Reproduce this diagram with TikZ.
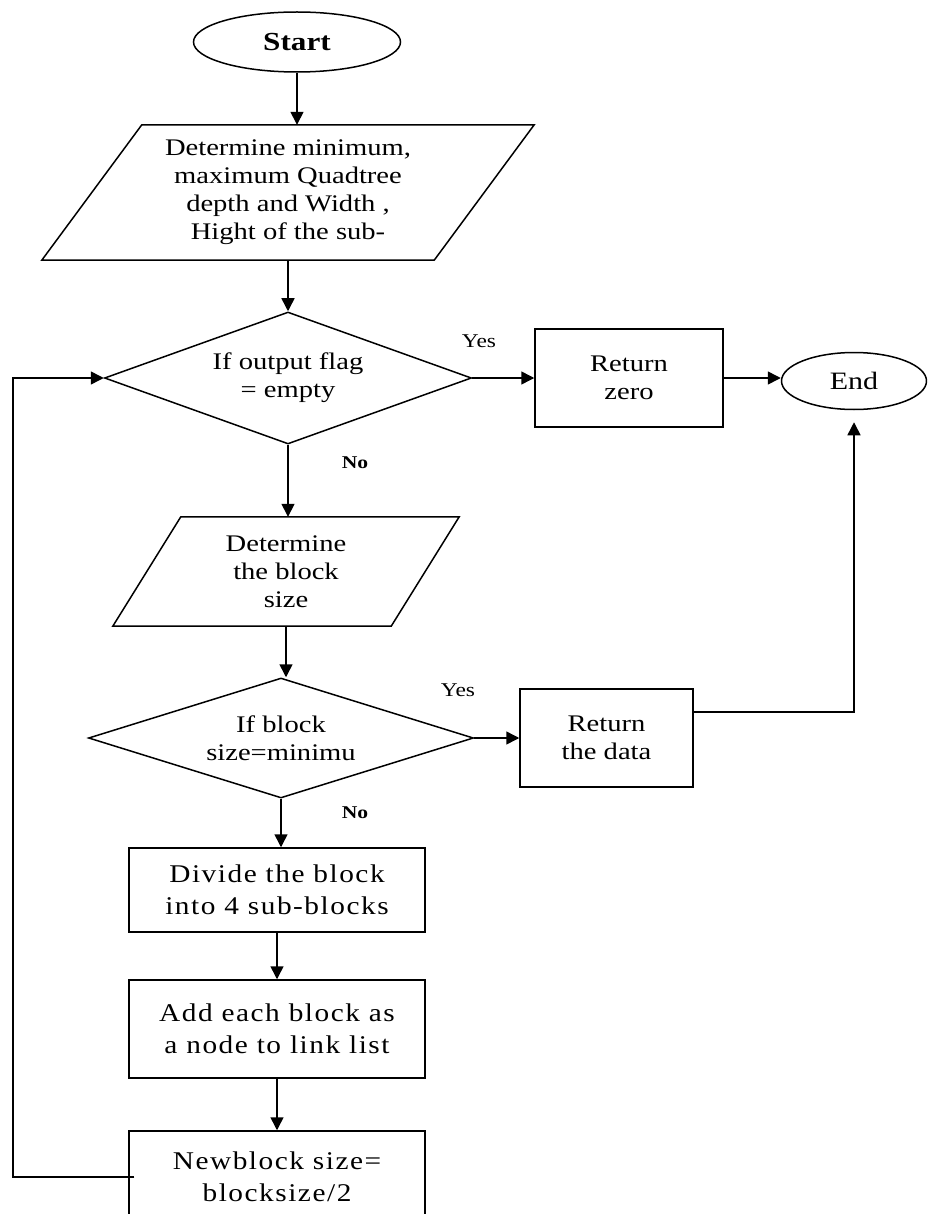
\documentclass[tikz,border=0pt]{standalone}
\usepackage{fontspec}
\setmainfont[FakeStretch=1.2]{Liberation Serif}
\newfontfamily\boxfont[FakeStretch=1.15,LetterSpace=6]{Liberation Serif}
\usetikzlibrary{arrows.meta,shapes.geometric}
\begin{document}
\begin{tikzpicture}[x=1pt,y=-1pt,
  every node/.style={inner sep=0pt, align=center},
  flow/.style={line width=1.5pt},
  arrow/.style={flow,-{Triangle[length=13pt,width=13pt]}},
  txt/.style={font=\fontsize{23.8}{28}\selectfont},
  boxtxt/.style={font=\boxfont\fontsize{25.5}{32}\selectfont},
  lbl/.style={font=\fontsize{19.5}{22}\selectfont},
  proc/.style={draw,line width=1.5pt,rectangle},
  term/.style={draw,line width=1.5pt,ellipse},
  decision/.style={draw,line width=1.5pt,diamond,aspect=2.8},
  ]
\clip (0,0) rectangle (927,1214);
\fill[white] (0,0) rectangle (927,1214);

% terminals
\node[term, minimum width=207pt, minimum height=60pt,
      font=\bfseries\fontsize{26}{30}\selectfont] (start) at (297,42) {Start};
\node[term, minimum width=145pt, minimum height=57pt,
      font=\fontsize{25}{30}\selectfont] (end) at (854,381) {End};

% input / output steps (parallelograms)
\node[txt, minimum width=392pt, minimum height=135pt] (p1) at (288,192.5)
  {Determine minimum,\\maximum Quadtree\\depth and Width ,\\Hight of the sub-};
\draw[flow] ([xshift=50pt]p1.north west) -- ([xshift=50pt]p1.north east)
  -- ([xshift=-50pt]p1.south east) -- ([xshift=-50pt]p1.south west) -- cycle;

\node[txt, minimum width=278pt, minimum height=109pt] (p2) at (286,571.5)
  {Determine\\the block\\size};
\draw[flow] ([xshift=34pt]p2.north west) -- ([xshift=34pt]p2.north east)
  -- ([xshift=-34pt]p2.south east) -- ([xshift=-34pt]p2.south west) -- cycle;

% decisions
\node[decision, txt, minimum width=367pt, minimum height=132pt] (d1) at (288,378)
  {If output flag\\= empty};
\node[decision, txt, minimum width=385pt, minimum height=120pt] (d2) at (281,738)
  {If block\\size=minimu};

% processes
\node[proc, txt, minimum width=188pt, minimum height=98pt] (r1) at (629,378) {Return\\zero};
\node[proc, txt, minimum width=173pt, minimum height=98pt] (r2) at (606.5,738) {Return\\the data};
\node[proc, boxtxt, minimum width=296pt, minimum height=84pt] (b3) at (277,890)
  {Divide the block\\into 4 sub-blocks};
\node[proc, boxtxt, minimum width=296pt, minimum height=98pt] (b4) at (277,1029)
  {Add each block as\\a node to link list};
\node[proc, boxtxt, minimum width=296pt, minimum height=92pt] (b5) at (277,1177)
  {Newblock size=\\blocksize/2};

% branch labels
\node[lbl] (yes1) at (479,341) {Yes};
\node[lbl, font=\bfseries\fontsize{18}{22}\selectfont] (no1) at (355,463) {No};
\node[lbl] (yes2) at (458,690) {Yes};
\node[lbl, font=\bfseries\fontsize{18}{22}\selectfont] (no2) at (355,813) {No};

% left return rail
\coordinate (rail) at (13,1177);

% connectors
\draw[arrow] (start.south) -- (start.south |- p1.north);
\draw[arrow] (p1.south) -- (d1.north);
\draw[arrow] (d1.east) -- (r1.west);
\draw[arrow] (r1.east) -- (r1.east -| end.west);
\draw[arrow] (d1.south) -- (d1.south |- p2.north);
\draw[arrow] (p2.south) -- (p2.south |- d2.north);
\draw[arrow] (d2.east) -- (r2.west);
\draw[arrow, shorten >=12pt] ([yshift=26pt]r2.east) -| (end.south);
\draw[arrow] (d2.south) -- (d2.south |- b3.north);
\draw[arrow] (b3.south) -- (b4.north);
\draw[arrow] (b4.south) -- (b5.north);
\draw[arrow] ([xshift=6pt]b5.west) -- (rail) |- (d1.west);
\end{tikzpicture}
\end{document}
